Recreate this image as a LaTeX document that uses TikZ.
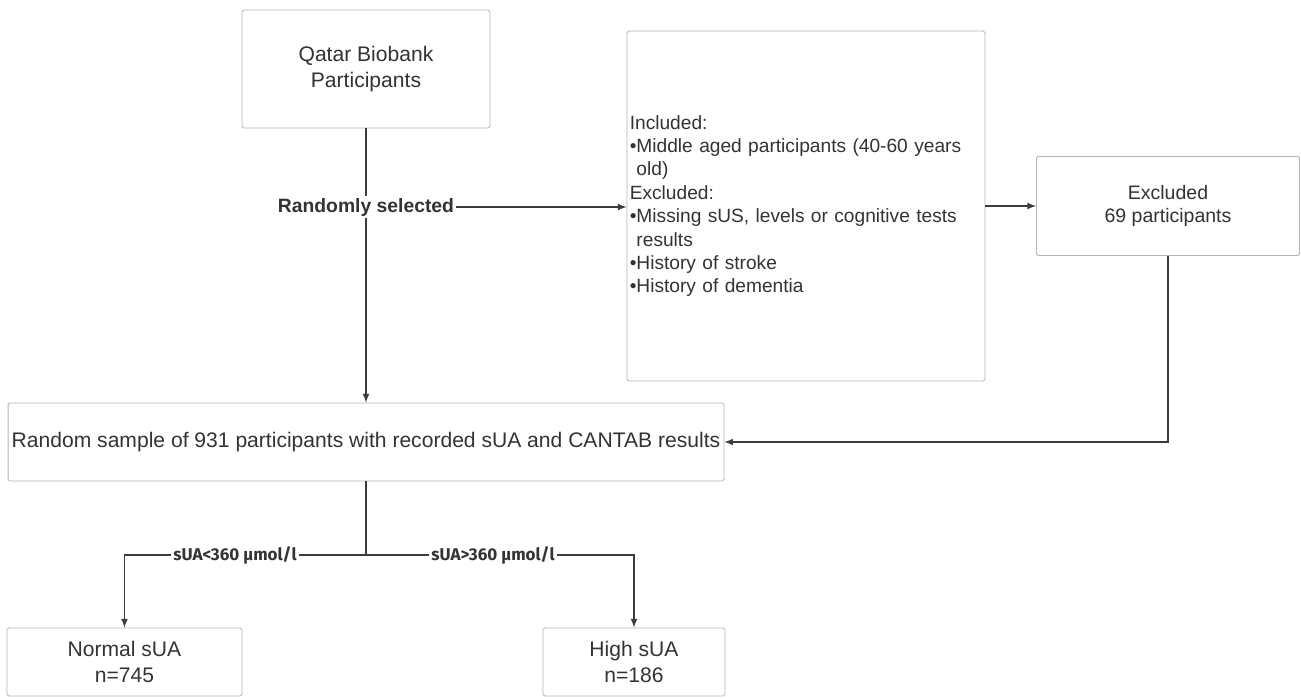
\documentclass[tikz,border=0pt]{standalone}
\usepackage{fontspec}
\setmainfont{Liberation Sans}
\newfontfamily\labelfont{Fira Sans}
\definecolor{txtgray}{HTML}{333333}
\definecolor{linegray}{HTML}{3C3C3C}
\definecolor{boxgray}{HTML}{B4B4B4}
\tikzset{
  box/.style={draw=boxgray, line width=0.5pt, rounded corners=1pt, text=txtgray, align=center, inner sep=1pt},
  conn/.style={draw=linegray, line width=0.7pt},
  lbl/.style={text=txtgray, inner sep=1pt, font=\bfseries}
}
\begin{document}
\begin{tikzpicture}[x=0.02cm,y=-0.02cm,>=latex]
\useasboundingbox (0,0) rectangle (1301,697);

% boxes
\node[box, minimum width=4.96cm, minimum height=2.36cm, font=\fontsize{12}{14.5}\selectfont] (qbb) at (366,69) {Qatar Biobank\\Participants};
\node[box, minimum width=7.16cm, minimum height=7.0cm, text width=7.05cm, align=left, font=\fontsize{10.9}{13.3}\selectfont] (crit) at (806,206) {Included:\\
\textbullet Middle aged participants (40-60 years\\ \hphantom{\textbullet}old)\\
Excluded:\\
\textbullet Missing sUS, levels or cognitive tests\\ \hphantom{\textbullet}results\\
\textbullet History of stroke\\
\textbullet History of dementia};
\node[box, minimum width=5.26cm, minimum height=1.98cm, font=\fontsize{11.1}{13.5}\selectfont] (excl) at (1168,206) {Excluded\\69 participants};
\node[box, minimum width=14.32cm, minimum height=1.56cm, font=\fontsize{12}{14.5}\selectfont] (sample) at (366,442) {Random sample of 931 participants with recorded sUA and CANTAB results};
\node[box, minimum width=4.7cm, minimum height=1.36cm, font=\fontsize{12}{14.5}\selectfont] (normal) at (124.5,662) {Normal sUA\\n=745};
\node[box, minimum width=3.64cm, minimum height=1.36cm, font=\fontsize{12}{14.5}\selectfont] (high) at (634,662) {High sUA\\n=186};

% labels on the connectors
\node[lbl, font=\fontsize{11}{13}\selectfont\bfseries] (rsel) at (366,207) {Randomly selected};
\coordinate (split) at (366,555);
\node[lbl, font=\fontsize{9.7}{11}\selectfont\labelfont\bfseries] (low) at (235,555) {sUA<360 µmol/l};
\node[lbl, font=\fontsize{9.7}{11}\selectfont\labelfont\bfseries] (up) at (493,555) {sUA>360 µmol/l};

% connectors
\draw[conn] (qbb.south) -- (rsel.north);
\draw[conn,->] (rsel.south) -- (sample.north);
\draw[conn,->] (rsel.east) -- (rsel.east -| crit.west);
\draw[conn,->] (crit.east) -- (excl.west);
\draw[conn,->] (excl.south) |- (sample.east);
\draw[conn] (sample.south) -- (split);
\draw[conn] (split) -- (low.east);
\draw[conn] (split) -- (up.west);
\draw[conn,->] (low.west) -| (normal.north);
\draw[conn,->] (up.east) -| (high.north);
\end{tikzpicture}
\end{document}
